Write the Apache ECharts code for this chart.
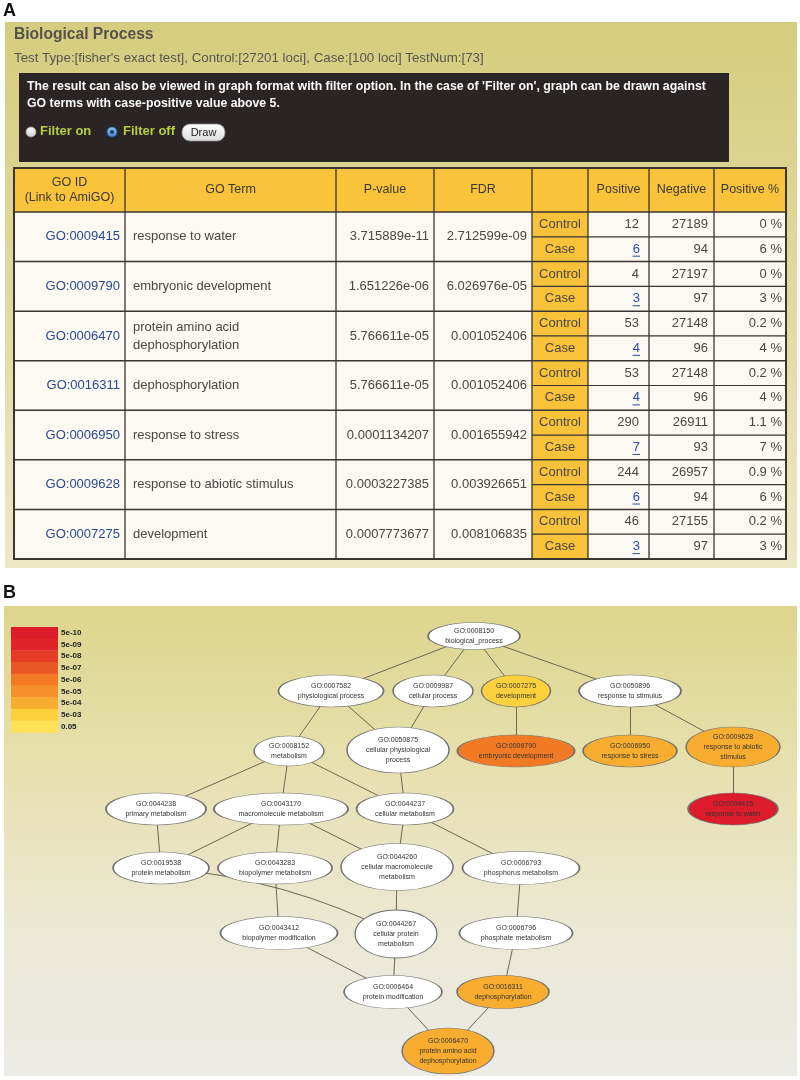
<!DOCTYPE html>
<html><head><meta charset="utf-8">
<script src="https://cdn.jsdelivr.net/npm/echarts@6/dist/echarts.min.js"></script>
<style>html,body{margin:0;padding:0;background:#fff}#c{width:800px;height:1080px}</style>
</head><body><div id="c"></div>
<script>
// ================= DATA : panel A (table) =================
const headers = ['GO ID\n(Link to AmiGO)', 'GO Term', 'P-value', 'FDR', '', 'Positive', 'Negative', 'Positive %'];
const goIds = ['GO:0009415', 'GO:0009790', 'GO:0006470', 'GO:0016311', 'GO:0006950', 'GO:0009628', 'GO:0007275'];
const goTerms = ['response to water', 'embryonic development', 'protein amino acid\ndephosphorylation', 'dephosphorylation', 'response to stress', 'response to abiotic stimulus', 'development'];
const pValues = ['3.715889e-11', '1.651226e-06', '5.766611e-05', '5.766611e-05', '0.0001134207', '0.0003227385', '0.0007773677'];
const fdrValues = ['2.712599e-09', '6.026976e-05', '0.001052406', '0.001052406', '0.001655942', '0.003926651', '0.008106835'];
const controlPositive = [12, 4, 53, 53, 290, 244, 46];
const controlNegative = [27189, 27197, 27148, 27148, 26911, 26957, 27155];
const controlPercent = ['0 %', '0 %', '0.2 %', '0.2 %', '1.1 %', '0.9 %', '0.2 %'];
const casePositive = [6, 3, 4, 4, 7, 6, 3];
const caseNegative = [94, 97, 96, 96, 93, 94, 97];
const casePercent = ['6 %', '3 %', '4 %', '4 %', '7 %', '6 %', '3 %'];
const groupLabels = ['Control', 'Case'];

// ================= DATA : panel B (GO graph) =================
const legendLabels = ['5e-10', '5e-09', '5e-08', '5e-07', '5e-06', '5e-05', '5e-04', '5e-03', '0.05'];
const legendThresholds = [5e-10, 5e-9, 5e-8, 5e-7, 5e-6, 5e-5, 5e-4, 5e-3, 0.05];
const graphIds = ['GO:0008150', 'GO:0007582', 'GO:0009987', 'GO:0007275', 'GO:0050896', 'GO:0008152', 'GO:0050875', 'GO:0009790', 'GO:0006950', 'GO:0009628', 'GO:0009415', 'GO:0044238', 'GO:0043170', 'GO:0044237', 'GO:0019538', 'GO:0043283', 'GO:0044260', 'GO:0006793', 'GO:0043412', 'GO:0044267', 'GO:0006796', 'GO:0006464', 'GO:0016311', 'GO:0006470'];
const graphTerms = ['biological_process', 'physiological process', 'cellular process', 'development', 'response to stimulus', 'metabolism', 'cellular physiological\nprocess', 'embryonic development', 'response to stress', 'response to abiotic\nstimulus', 'response to water', 'primary metabolism', 'macromolecule metabolism', 'cellular metabolism', 'protein metabolism', 'biopolymer metabolism', 'cellular macromolecule\nmetabolism', 'phosphorus metabolism', 'biopolymer modification', 'cellular protein\nmetabolism', 'phosphate metabolism', 'protein modification', 'dephosphorylation', 'protein amino acid\ndephosphorylation'];
const graphLinks = [
  ['GO:0008150', 'GO:0007582'], ['GO:0008150', 'GO:0009987'], ['GO:0008150', 'GO:0007275'], ['GO:0008150', 'GO:0050896'],
  ['GO:0007582', 'GO:0008152'], ['GO:0007582', 'GO:0050875'], ['GO:0009987', 'GO:0050875'],
  ['GO:0007275', 'GO:0009790'], ['GO:0050896', 'GO:0006950'], ['GO:0050896', 'GO:0009628'], ['GO:0009628', 'GO:0009415'],
  ['GO:0008152', 'GO:0044238'], ['GO:0008152', 'GO:0043170'], ['GO:0008152', 'GO:0044237'], ['GO:0050875', 'GO:0044237'],
  ['GO:0044238', 'GO:0019538'], ['GO:0043170', 'GO:0019538'], ['GO:0043170', 'GO:0043283'], ['GO:0043170', 'GO:0044260'],
  ['GO:0044237', 'GO:0044260'], ['GO:0044237', 'GO:0006793'],
  ['GO:0019538', 'GO:0044267'], ['GO:0043283', 'GO:0043412'], ['GO:0044260', 'GO:0044267'], ['GO:0006793', 'GO:0006796'],
  ['GO:0043412', 'GO:0006464'], ['GO:0044267', 'GO:0006464'], ['GO:0006796', 'GO:0016311'],
  ['GO:0006464', 'GO:0006470'], ['GO:0016311', 'GO:0006470']
];

// ================= LAYOUT / STYLE (not data) =================
const FONT = '"Liberation Sans", Arial, sans-serif';
const legendColors = ['#dc1c2b', '#df2329', '#e53c27', '#ea5726', '#f27a24', '#f6902a', '#f8ad30', '#fcd13d', '#fde256'];
// graph layout in canvas units: [cx, cy, width, height]
const nodeLayout = {
  'GO:0008150': [474, 636, 92, 27], 'GO:0007582': [331, 691, 105, 32], 'GO:0009987': [433, 691, 80, 32],
  'GO:0007275': [516, 691, 69, 32], 'GO:0050896': [630, 691, 102, 32], 'GO:0008152': [289, 751, 70, 30],
  'GO:0050875': [398, 750, 102, 46], 'GO:0009790': [516, 751, 117, 32], 'GO:0006950': [630, 751, 94, 32],
  'GO:0009628': [733, 747, 94, 40], 'GO:0009415': [733, 809, 90, 32], 'GO:0044238': [156, 809, 100, 32],
  'GO:0043170': [281, 809, 134, 32], 'GO:0044237': [405, 809, 97, 32], 'GO:0019538': [161, 868, 96, 32],
  'GO:0043283': [275, 868, 114, 32], 'GO:0044260': [397, 867, 112, 47], 'GO:0006793': [521, 868, 117, 33],
  'GO:0043412': [279, 933, 117, 33], 'GO:0044267': [396, 934, 82, 48], 'GO:0006796': [516, 933, 113, 33],
  'GO:0006464': [393, 992, 98, 33], 'GO:0016311': [503, 992, 92, 33], 'GO:0006470': [448, 1051, 92, 46]
};
const curvedLinks = {'GO:0019538>GO:0044267': 0.1};

const els = [];
function T(x, y, text, o) {
  o = o || {};
  const st = {
    text: text, x: 0, y: 0, fill: o.fill || '#474747',
    fontSize: o.size || 13, fontFamily: FONT, fontWeight: o.weight || 'normal',
    textAlign: o.align || 'left', textVerticalAlign: 'middle',
    align: o.align || 'left', verticalAlign: 'middle'
  };
  if (o.lh) st.lineHeight = o.lh;
  els.push({type: 'text', x: x, y: y, z: o.z || 20, silent: true, style: st});
}
function R(x, y, w, h, fill, o) {
  o = o || {};
  els.push({type: 'rect', z: o.z || 10, silent: true, shape: {x: x, y: y, width: w, height: h, r: o.r || 0},
    style: {fill: fill, stroke: o.stroke || null, lineWidth: o.lw || 0}});
}
function L(x1, y1, x2, y2, color, w, z) {
  els.push({type: 'line', z: z || 15, silent: true, shape: {x1: x1, y1: y1, x2: x2, y2: y2}, style: {stroke: color, lineWidth: w}});
}
function C(cx, cy, r, fill, stroke, z) {
  els.push({type: 'circle', z: z || 20, silent: true, shape: {cx: cx, cy: cy, r: r}, style: {fill: fill, stroke: stroke || null, lineWidth: stroke ? 0.8 : 0}});
}
const grad = (stops) => ({type: 'linear', x: 0, y: 0, x2: 0, y2: 1, colorStops: stops.map((c, i) => ({offset: i / (stops.length - 1), color: c}))});

// ---------- Panel A ----------
T(3, 11, 'A', {size: 18, weight: 'bold', fill: '#111'});
R(5, 22, 792, 546, grad(['#d6cc7e', '#e1da9f', '#ece8c6']), {z: 1});
T(14, 35, 'Biological Process', {size: 15.6, weight: 'bold', fill: '#55524b'});
T(14, 58, "Test Type:[fisher's exact test], Control:[27201 loci], Case:[100 loci] TestNum:[73]", {size: 13.3, fill: '#575450'});
R(19, 73, 710, 89, '#2a2524', {z: 5});
T(27, 87, "The result can also be viewed in graph format with filter option. In the case of 'Filter on', graph can be drawn against", {size: 12.3, weight: 'bold', fill: '#fafafa'});
T(27, 104, 'GO terms with case-positive value above 5.', {size: 12.3, weight: 'bold', fill: '#fafafa'});
C(31, 132, 5, grad(['#ffffff', '#cfcfcf']), '#999');
T(40, 131, 'Filter on', {size: 13, weight: 'bold', fill: '#b3cf3f'});
C(112, 132, 5, grad(['#8fc3f0', '#3d86d2']), '#2d5f9a');
C(112, 132, 2, '#1d3a66', null, 21);
T(123, 131, 'Filter off', {size: 13, weight: 'bold', fill: '#b3cf3f'});
R(182, 124, 43, 17, grad(['#ffffff', '#dcdcdc']), {r: 8, stroke: '#8c8c8c', lw: 0.8, z: 18});
T(203.5, 133, 'Draw', {size: 11, fill: '#222', align: 'center'});

// table
const colX = [14, 125, 336, 434, 532, 588, 649, 714, 786];
const tTop = 168, hBot = 212, tBot = 559;
const rowH = (tBot - hBot) / goIds.length;
const lineC = '#3a3631';
R(colX[0], tTop, colX[8] - colX[0], hBot - tTop, '#f9c43c');
R(colX[0], hBot, colX[4] - colX[0], tBot - hBot, '#fbf9f2');
R(colX[4], hBot, colX[5] - colX[4], tBot - hBot, '#f8c23a');
R(colX[5], hBot, colX[8] - colX[5], tBot - hBot, '#fbf9f2');
headers.forEach((h, i) => {
  if (h) T((colX[i] + colX[i + 1]) / 2, 190, h, {size: 12.5, fill: '#3b3833', align: 'center', lh: 15});
});
for (let i = 1; i < colX.length - 1; i++) L(colX[i], tTop, colX[i], tBot, lineC, 1.3);
L(colX[0], hBot, colX[8], hBot, lineC, 1.5);
goIds.forEach((id, i) => {
  const y0 = hBot + i * rowH, yc = y0 + rowH / 2, yt = y0 + rowH / 4, yb = y0 + rowH * 3 / 4;
  if (i > 0) L(colX[0], y0, colX[8], y0, lineC, 1.5);
  L(colX[4], yc, colX[8], yc, lineC, 1.2);
  T(120, yc, id, {fill: '#2a4b92', align: 'right'});
  T(133, yc, goTerms[i], {lh: 18});
  T(429, yc, pValues[i], {align: 'right'});
  T(527, yc, fdrValues[i], {align: 'right'});
  T(560, yt, groupLabels[0], {align: 'center', fill: '#4a4640'});
  T(560, yb, groupLabels[1], {align: 'center', fill: '#4a4640'});
  T(639, yt, String(controlPositive[i]), {align: 'right'});
  T(708, yt, String(controlNegative[i]), {align: 'right'});
  T(782, yt, controlPercent[i], {align: 'right'});
  T(640, yb, String(casePositive[i]), {align: 'right', fill: '#2a4bb0'});
  L(640 - 7.5 * String(casePositive[i]).length, yb + 7, 640, yb + 7, '#2a4bb0', 1, 21);
  T(708, yb, String(caseNegative[i]), {align: 'right'});
  T(782, yb, casePercent[i], {align: 'right'});
});
R(colX[0], tTop, colX[8] - colX[0], tBot - tTop, null, {stroke: lineC, lw: 2, z: 16});

// ---------- Panel B ----------
T(3, 593, 'B', {size: 18, weight: 'bold', fill: '#111'});
R(4, 606, 793, 470, grad(['#ded58c', '#e6e0ae', '#ebe8d2', '#ecebe7']), {z: 1});
const lgTop = 627, lgH = 11.7;
legendLabels.forEach((lab, i) => {
  R(11, lgTop + i * lgH, 47, lgH + 0.4, legendColors[i], {z: 10});
  T(61, lgTop + i * lgH + lgH / 2, lab, {size: 8, weight: 'bold', fill: '#222'});
});

// node colours from table p-values through the legend bins
function pColor(p) {
  for (let i = 0; i < legendThresholds.length; i++) if (p <= legendThresholds[i]) return legendColors[i];
  return '#ffffff';
}
const nodes = graphIds.map((id, i) => {
  const k = goIds.indexOf(id);
  const lay = nodeLayout[id];
  return {
    name: id, value: [lay[0], lay[1]], symbolSize: [lay[2], lay[3]],
    itemStyle: {color: k >= 0 ? pColor(parseFloat(pValues[k])) : '#ffffff'},
    label: {formatter: id + '\n' + graphTerms[i]}
  };
});
const links = graphLinks.map(l => {
  const o = {source: l[0], target: l[1]};
  const c = curvedLinks[l[0] + '>' + l[1]];
  if (c) o.lineStyle = {curveness: c};
  return o;
});

const chart = echarts.init(document.getElementById('c'), null, {renderer: 'canvas'});
chart.setOption({
  animation: false,
  graphic: {elements: els},
  grid: {left: 0, right: 0, top: 0, bottom: 0},
  xAxis: {type: 'value', min: 0, max: 800, show: false},
  yAxis: {type: 'value', min: 0, max: 1080, inverse: true, show: false},
  series: [{
    type: 'graph', coordinateSystem: 'cartesian2d', z: 30,
    symbol: 'circle', data: nodes, links: links, edgeSymbol: ['none', 'none'],
    itemStyle: {borderColor: '#707070', borderWidth: 1},
    lineStyle: {color: '#6b6753', width: 1, opacity: 1},
    label: {show: true, position: 'inside', fontSize: 7, fontFamily: FONT, color: '#333', lineHeight: 10, align: 'center'},
    emphasis: {disabled: true}, silent: true
  }]
});
</script></body></html>
